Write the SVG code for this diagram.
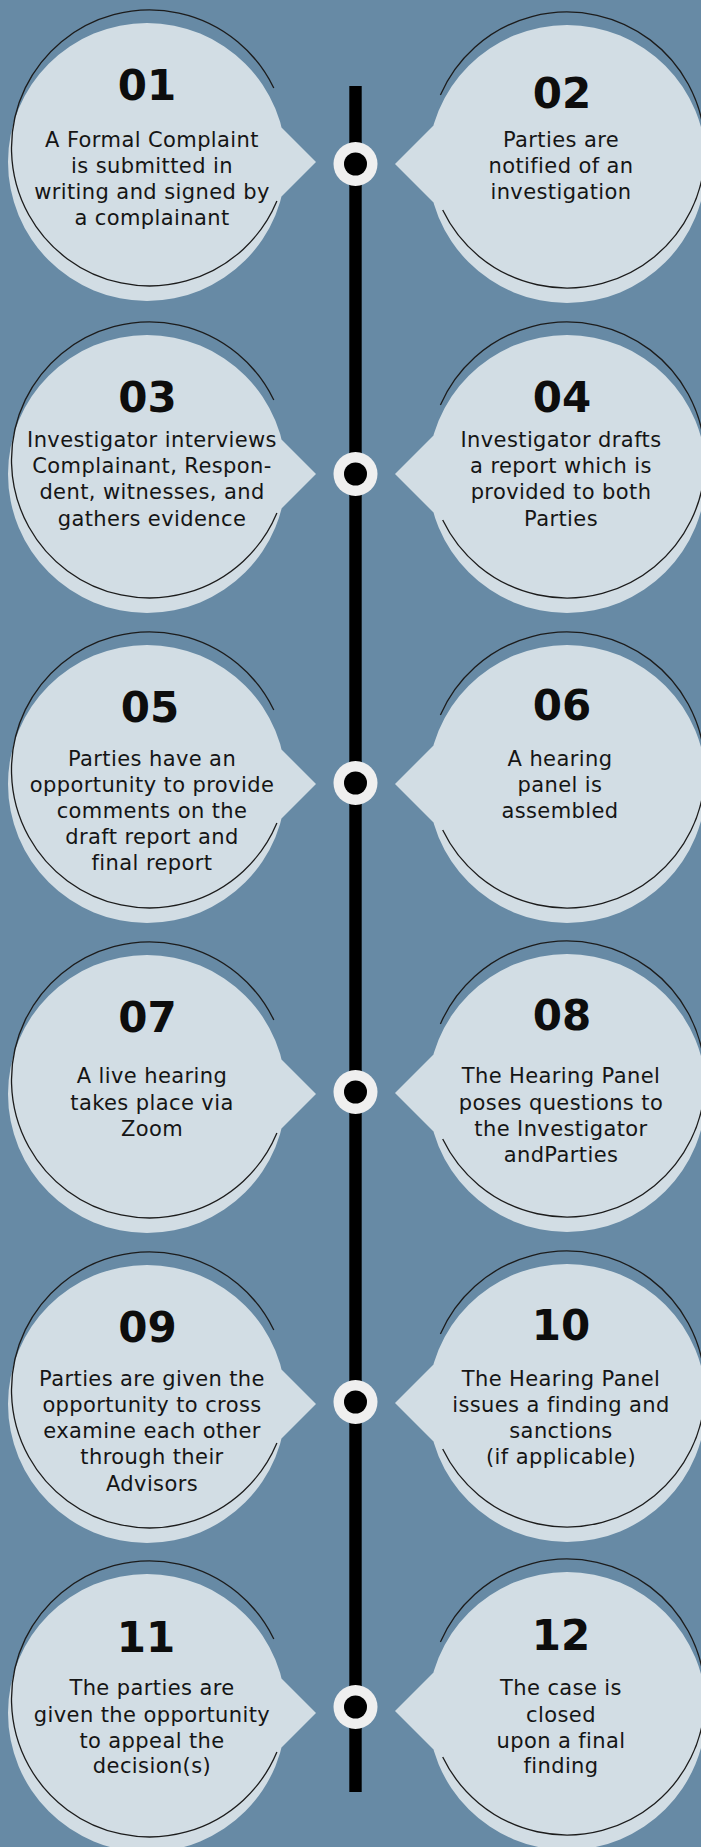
<svg xmlns="http://www.w3.org/2000/svg" xmlns:xlink="http://www.w3.org/1999/xlink" width="701" height="1847" viewBox="0 0 701 1847">
<style>
.bub{fill:#d2dde4}
.arc{fill:none;stroke:#1c1c1c;stroke-width:1.3}
.num{font-family:"DejaVu Sans",sans-serif;font-weight:bold;font-size:42px;fill:#0d0d0d;text-anchor:middle}
.txt{font-family:"DejaVu Sans",sans-serif;font-size:21px;letter-spacing:0.4px;fill:#151515;text-anchor:middle}
.ring{fill:#efefef}
.dot{fill:#000}
</style>
<defs>
<path id="bubbleL" d="M8 0a139 139 0 1 0 278 0a139 139 0 1 0 -278 0Z M316 0L260 -56L260 56Z"/>
<path id="arcL" d="M273.8 -74A138 138 0 1 0 276.9 39"/>
<path id="bubbleR" d="M428 0a139 139 0 1 0 278 0a139 139 0 1 0 -278 0Z M395 0L451 56L451 -56Z"/>
<path id="arcR" d="M440.4 -69A138 138 0 1 1 442.7 46"/>
</defs>
<rect width="701" height="1847" fill="#678aa5"/>

<g id="connectors">
<rect x="349.3" y="86" width="12.4" height="1706" fill="#000"/>
<circle class="ring" cx="355.5" cy="164" r="22"/><circle class="dot" cx="355.5" cy="164" r="11.5"/>
<circle class="ring" cx="355.5" cy="474" r="22"/><circle class="dot" cx="355.5" cy="474" r="11.5"/>
<circle class="ring" cx="355.5" cy="783" r="22"/><circle class="dot" cx="355.5" cy="783" r="11.5"/>
<circle class="ring" cx="355.5" cy="1092" r="22"/><circle class="dot" cx="355.5" cy="1092" r="11.5"/>
<circle class="ring" cx="355.5" cy="1402" r="22"/><circle class="dot" cx="355.5" cy="1402" r="11.5"/>
<circle class="ring" cx="355.5" cy="1707" r="22"/><circle class="dot" cx="355.5" cy="1707" r="11.5"/>
</g>

<g id="node01">
<use href="#bubbleL" class="bub" y="162"/>
<use href="#arcL" class="arc" y="162"/>
<text class="num" x="147" y="100">01</text>
<text class="txt"><tspan x="152" y="147">A Formal Complaint</tspan><tspan x="152" y="173">is submitted in</tspan><tspan x="152" y="199">writing and signed by</tspan><tspan x="152" y="225">a complainant</tspan></text>
</g>

<g id="node02">
<use href="#bubbleR" class="bub" y="164"/>
<use href="#arcR" class="arc" y="164"/>
<text class="num" x="562" y="108">02</text>
<text class="txt"><tspan x="561" y="147">Parties are</tspan><tspan x="561" y="173">notified of an</tspan><tspan x="561" y="199">investigation</tspan></text>
</g>

<g id="node03">
<use href="#bubbleL" class="bub" y="474"/>
<use href="#arcL" class="arc" y="474"/>
<text class="num" x="147.5" y="412">03</text>
<text class="txt"><tspan x="152" y="447">Investigator interviews</tspan><tspan x="152" y="473">Complainant, Respon-</tspan><tspan x="152" y="499">dent, witnesses, and</tspan><tspan x="152" y="526">gathers evidence</tspan></text>
</g>

<g id="node04">
<use href="#bubbleR" class="bub" y="474"/>
<use href="#arcR" class="arc" y="474"/>
<text class="num" x="562" y="412">04</text>
<text class="txt"><tspan x="561" y="447">Investigator drafts</tspan><tspan x="561" y="473">a report which is</tspan><tspan x="561" y="499">provided to both</tspan><tspan x="561" y="526">Parties</tspan></text>
</g>

<g id="node05">
<use href="#bubbleL" class="bub" y="784"/>
<use href="#arcL" class="arc" y="784"/>
<text class="num" x="150" y="722">05</text>
<text class="txt"><tspan x="152" y="766">Parties have an</tspan><tspan x="152" y="792">opportunity to provide</tspan><tspan x="152" y="818">comments on the</tspan><tspan x="152" y="844">draft report and</tspan><tspan x="152" y="870">final report</tspan></text>
</g>

<g id="node06">
<use href="#bubbleR" class="bub" y="784"/>
<use href="#arcR" class="arc" y="784"/>
<text class="num" x="562" y="720">06</text>
<text class="txt"><tspan x="560" y="766">A hearing</tspan><tspan x="560" y="792">panel is</tspan><tspan x="560" y="818">assembled</tspan></text>
</g>

<g id="node07">
<use href="#bubbleL" class="bub" y="1094"/>
<use href="#arcL" class="arc" y="1094"/>
<text class="num" x="147.5" y="1032">07</text>
<text class="txt"><tspan x="152" y="1083">A live hearing</tspan><tspan x="152" y="1110">takes place via</tspan><tspan x="152" y="1136">Zoom</tspan></text>
</g>

<g id="node08">
<use href="#bubbleR" class="bub" y="1093"/>
<use href="#arcR" class="arc" y="1093"/>
<text class="num" x="562" y="1030">08</text>
<text class="txt"><tspan x="561" y="1083">The Hearing Panel</tspan><tspan x="561" y="1110">poses questions to</tspan><tspan x="561" y="1136">the Investigator</tspan><tspan x="561" y="1162">andParties</tspan></text>
</g>

<g id="node09">
<use href="#bubbleL" class="bub" y="1404"/>
<use href="#arcL" class="arc" y="1404"/>
<text class="num" x="147.5" y="1342">09</text>
<text class="txt"><tspan x="152" y="1386">Parties are given the</tspan><tspan x="152" y="1412">opportunity to cross</tspan><tspan x="152" y="1438">examine each other</tspan><tspan x="152" y="1464">through their</tspan><tspan x="152" y="1491">Advisors</tspan></text>
</g>

<g id="node10">
<use href="#bubbleR" class="bub" y="1403"/>
<use href="#arcR" class="arc" y="1403"/>
<text class="num" x="561" y="1340">10</text>
<text class="txt"><tspan x="561" y="1386">The Hearing Panel</tspan><tspan x="561" y="1412">issues a finding and</tspan><tspan x="561" y="1438">sanctions</tspan><tspan x="561" y="1464">(if applicable)</tspan></text>
</g>

<g id="node11">
<use href="#bubbleL" class="bub" y="1713"/>
<use href="#arcL" class="arc" y="1713"/>
<text class="num" x="146" y="1652">11</text>
<text class="txt"><tspan x="152" y="1695">The parties are</tspan><tspan x="152" y="1722">given the opportunity</tspan><tspan x="152" y="1748">to appeal the</tspan><tspan x="152" y="1773">decision(s)</tspan></text>
</g>

<g id="node12">
<use href="#bubbleR" class="bub" y="1711"/>
<use href="#arcR" class="arc" y="1711"/>
<text class="num" x="561" y="1650">12</text>
<text class="txt"><tspan x="561" y="1695">The case is</tspan><tspan x="561" y="1722">closed</tspan><tspan x="561" y="1748">upon a final</tspan><tspan x="561" y="1773">finding</tspan></text>
</g>
</svg>
